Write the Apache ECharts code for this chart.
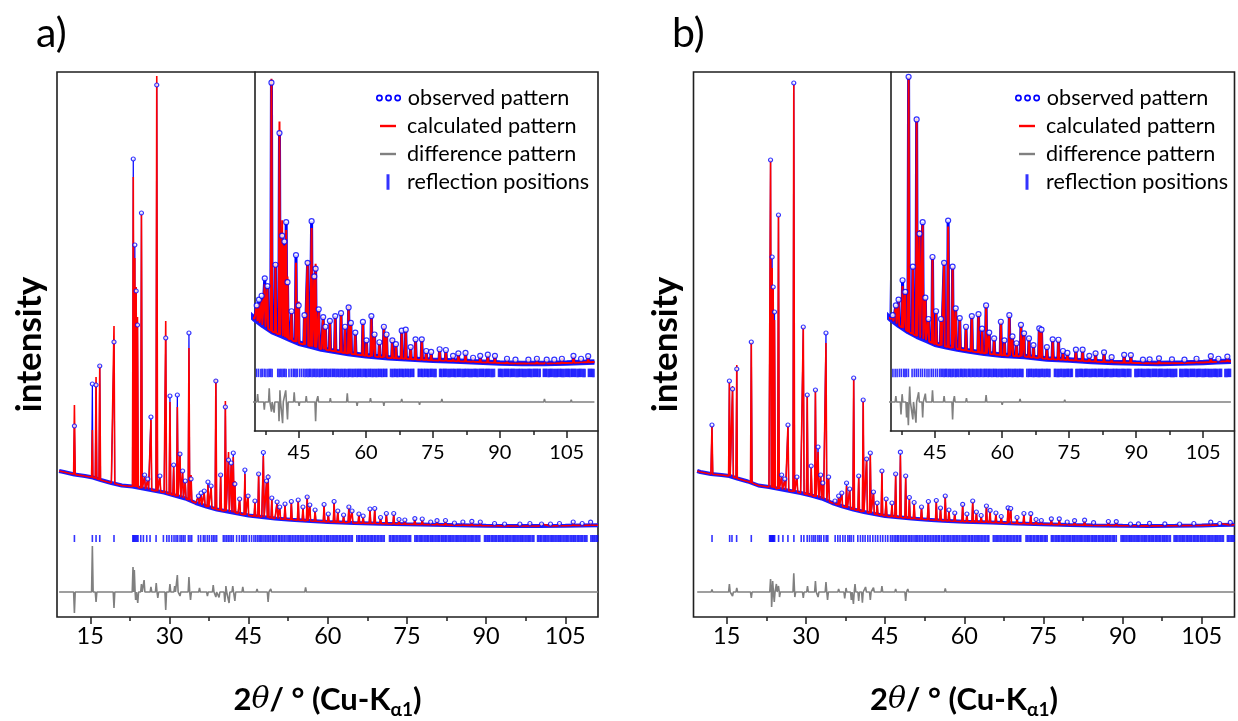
<!DOCTYPE html>
<html>
<head>
<meta charset="utf-8">
<script src="https://cdn.jsdelivr.net/npm/echarts@6/dist/echarts.min.js"></script>
<style>
html,body{margin:0;padding:0;background:#ffffff;}
#c{width:1238px;height:721px;}
</style>
</head>
<body>
<div id="c"></div>
<script>
// ---------------- data (2theta in degrees, intensity in arbitrary units) ----------------
const xTicks = [15, 30, 45, 60, 75, 90, 105];
const xMinorTicks = [22.5, 37.5, 52.5, 67.5, 82.5, 97.5];
const insetTicks = [45, 60, 75, 90, 105];
const insetMinorTicks = [37.5, 52.5, 67.5, 82.5, 97.5];

// panel a) background
const bgA_x = [9.1, 10, 12, 14, 15.5, 17, 19, 21, 23, 25, 27, 29, 31, 33, 35, 37, 39, 41, 43, 45, 47.5, 50, 53, 56, 60, 65, 70, 75, 80, 85, 90, 95, 100, 105, 108, 111.2];
const bgA_y = [146, 145, 142.5, 141, 139.5, 137, 134, 131.5, 130.5, 128.5, 126.5, 124.5, 121.5, 118.5, 114, 110.5, 107.5, 105.5, 103.5, 101.5, 100, 98.5, 97.3, 96.2, 95, 94, 93.3, 92.7, 92.3, 91.8, 91.3, 91, 91, 91.3, 91.6, 91.8];
// panel a) peaks: position, calculated top, observed top
const pkA_pos = [12.0, 15.4, 16.1, 16.8, 19.5, 23.15, 23.45, 23.7, 23.95, 24.7, 25.3, 25.9, 26.5, 27.6, 28.2, 29.3, 30.1, 30.8, 31.5, 32.0, 32.5, 33.0, 33.7, 34.1, 35.5, 36.0, 36.6, 37.3, 37.9, 38.8, 39.7, 40.6, 41.2, 41.7, 42.1, 42.4, 43.3, 44.3, 44.9, 46.2, 46.9, 47.8, 48.4, 48.7, 49.4, 50.4, 50.9, 51.9, 53.1, 54.4, 55.3, 56.1, 56.6, 57.6, 59.3, 60.1, 61.2, 61.9, 63.0, 64.0, 64.6, 65.9, 66.7, 68.0, 68.9, 70.0, 71.1, 72.5, 73.5, 74.6, 76.5, 77.9, 79.5, 80.7, 82.3, 84.0, 85.6, 87.3, 88.9, 91.6, 93.5, 96.4, 98.3, 100.5, 102.2, 103.9, 106.5, 108.2, 109.8];
const pkA_calc = [212, 187, 240, 252, 291, 440, 359, 330, 300, 402, 140, 137, 197, 541, 140, 296, 215, 150, 210, 165, 145, 135, 269, 142, 121, 122, 124, 132, 130, 238, 143, 216, 165, 152, 160, 136, 118, 143, 123, 116, 144, 161, 136, 142.5, 119, 115, 110, 112.7, 115, 117, 110, 121, 112, 106.5, 112, 103, 114.5, 106, 102, 110.5, 106.5, 103.5, 101, 107.5, 108.5, 99.5, 103.2, 103.4, 97.5, 96.8, 98.2, 97.6, 95, 96.3, 96.3, 94.3, 94.6, 95.5, 95, 93.2, 92.8, 93.2, 93.7, 93, 92.8, 93.7, 94.8, 93.5, 94.6];
const pkA_obs = [191, 233, 232, 251, 275, 458, 372, 326, 292, 404, 142, 138, 200, 532, 141, 279, 221, 152, 222, 163, 146, 136, 284, 138, 121, 124, 126, 135, 131, 236, 142, 210, 157, 154, 164, 133, 118, 147, 121, 116, 143, 164.5, 136, 140, 119, 115, 110, 113, 115.5, 117, 110, 120, 112, 107, 112.5, 103, 115.5, 106, 102, 110, 106, 103, 101, 108, 108.5, 99.5, 103.5, 103.5, 97.5, 97, 98.4, 98, 95, 96.3, 96.5, 94, 95, 95.6, 95, 93.5, 93, 93, 93.5, 93, 93, 93.5, 95, 93.5, 94.8];
// panel a) difference (obs - calc) spikes
const diffA_x = [12.0, 15.4, 16.1, 19.5, 23.1, 23.35, 23.6, 24.0, 24.7, 25.2, 26.5, 27.5, 27.8, 29.3, 30.1, 31.0, 31.5, 32.0, 33.7, 34.0, 35.7, 37.2, 38.3, 38.8, 39.4, 40.5, 40.7, 41.3, 42.0, 42.4, 43.9, 45.0, 46.6, 48.7, 49.2, 52.0, 55.8, 58.0, 61.0, 64.0, 68.0, 72.0, 77.0, 84.0, 91.0, 100.0, 106.0];
const diffA_d = [-21, 46, -10, -16, 25, 22, -8, -11, 8, 12, 5, 9, -6, -18, 8, 6, 17, -4, 15, -8, 4, -4, 7, -5, -5.5, -10, 6, -11, 6, -9, 5, -2, 3, -10, 3, 2, 4.5, -2, 2, -2, 1.5, -1.5, 1.5, -1, 1, 1.5, 1.2];
const reflA_low = [12.0, 15.4, 16.1, 16.8, 19.5, 23.06, 23.25, 23.45, 23.65, 23.85, 24.05, 24.57, 25.07, 25.7, 26.33, 27.47, 28.86, 29.49, 29.93, 30.43, 30.87, 31.25, 31.57, 32.01, 32.32, 32.64, 32.96, 33.59, 33.9, 34.22, 35.48, 35.92, 36.43, 36.74, 37.18, 37.56, 38.0, 38.32, 38.63, 38.95, 40.21, 40.52, 40.84, 41.15, 41.47, 41.78, 42.1, 42.73, 43.24, 43.68, 43.99, 44.31, 44.62, 45.13, 45.57, 46.01];

// panel b) background
const bgB_x = [9.4, 10, 12, 14, 15.5, 17, 19, 21, 23, 25, 27, 29, 31, 33, 35, 37, 39, 41, 43, 45, 47.5, 50, 53, 56, 60, 65, 70, 75, 80, 85, 90, 95, 100, 105, 108, 111.2];
const bgB_y = [146, 145, 143, 142, 141, 138.5, 135.5, 131.5, 130, 128, 126, 124, 121.5, 118.5, 114, 110.5, 107.5, 105, 103, 101, 99.7, 98.5, 97.3, 96.3, 95.3, 94.6, 93.4, 92.8, 92.1, 91.6, 91.3, 91.1, 91.3, 91.6, 92, 92.2];
const pkB_pos = [12.2, 15.5, 16.1, 16.9, 19.65, 23.3, 23.6, 23.8, 24.05, 24.8, 25.4, 26.0, 26.6, 27.7, 28.3, 29.5, 30.25, 31.0, 31.8, 32.3, 32.8, 33.2, 33.8, 34.3, 35.5, 36.2, 36.8, 37.7, 38.3, 39.05, 40.0, 40.85, 41.5, 42.2, 42.8, 43.5, 44.4, 45.2, 46.3, 47.0, 47.9, 48.9, 49.6, 50.5, 51.9, 53.2, 54.7, 55.5, 56.4, 57.1, 58.2, 59.7, 60.5, 61.6, 62.3, 63.2, 64.2, 64.9, 66.0, 67.0, 68.3, 68.8, 70.0, 71.3, 72.6, 73.6, 74.6, 76.5, 78.0, 79.5, 80.9, 82.8, 84.5, 87.3, 88.8, 91.5, 93.0, 95.1, 98.0, 100.8, 103.5, 106.7, 108.4, 110.4];
const pkB_calc = [191, 234, 231, 252, 275, 457, 349, 330, 297, 402, 140, 137, 192, 532, 140, 290, 222, 150, 227, 165, 142, 134, 274, 140, 115, 120.4, 123.8, 131, 128, 239, 141, 217.6, 160, 162.5, 125, 114, 146, 117.8, 114, 143.6, 161.7, 141, 119.5, 114.4, 110, 115.2, 116.4, 109, 121.2, 106.6, 104, 112.6, 103, 116, 104.9, 101.5, 110.9, 106.6, 104, 100.5, 109.2, 108.3, 99.5, 103.2, 103.2, 97.5, 96.3, 98, 98, 95, 96.3, 96.6, 94.3, 95.4, 95.4, 93, 93.2, 93.7, 93.2, 93, 93.5, 94.6, 93.5, 94.6];
const pkB_obs = [192, 236, 228, 248, 275, 457, 360, 330, 305, 402, 142, 138, 192, 534, 140, 290, 222, 151, 227, 170, 142, 134, 284, 140, 116, 121, 124, 134, 128, 239, 141, 217, 158, 164, 125, 114, 146, 118, 114, 143, 164.8, 141, 119.5, 114.5, 110, 115.5, 116.5, 109, 121, 107, 104, 112.6, 103, 116, 105, 101.5, 111, 106.6, 104, 100.5, 109.2, 108.5, 99.5, 103.5, 103.3, 97.5, 96.5, 98.2, 98.2, 95, 96.3, 96.8, 94.3, 95.5, 95.4, 93, 93.2, 93.7, 93.2, 93, 93.5, 94.8, 93.5, 94.6];
const diffB_x = [12.2, 15.5, 16.1, 16.9, 19.65, 23.3, 23.5, 23.7, 24.0, 24.4, 24.8, 25.0, 27.7, 27.9, 29.5, 30.3, 31.8, 32.3, 33.8, 34.1, 36.2, 37.35, 37.6, 38.6, 39.0, 39.3, 40.0, 40.7, 41.3, 42.2, 42.8, 44.4, 47.0, 48.9, 49.3, 52.0, 56.4, 60.0, 64.0, 68.0, 74.0, 80.0, 88.0, 96.0, 104.0];
const diffB_d = [2.5, 8, -4, 4, -6, 13, -15, 11, -10, 8, 6, -5, 18.6, -5, -6, 6, 11, -5, 10, -8, 3, -6.4, 4, -8, -12, 8, -9, -10.7, 5, -8, 4.3, 6, 3, -9, 3, 2, 3.6, -1.5, 1.5, -1, 1.2, -1, 1, 1, -1];
const reflB_low = [12.21, 15.55, 15.99, 16.87, 19.65, 23.12, 23.27, 23.43, 23.6, 23.75, 23.9, 24.07, 24.82, 25.64, 26.59, 27.72, 29.11, 29.61, 30.24, 30.68, 31.13, 31.5, 31.82, 32.26, 32.57, 32.89, 33.39, 33.84, 34.15, 35.54, 36.04, 36.48, 36.99, 37.43, 37.94, 38.25, 38.57, 39.01, 39.83, 40.33, 40.78, 41.22, 41.72, 42.16, 42.67, 43.17, 43.61, 44.12, 44.56, 45.07, 45.51, 46.02];

// high-angle reflection positions (dense band, same in both panels)
const reflHigh = [46.35, 46.7, 47.0, 47.3, 47.55, 47.9, 48.2, 48.5, 48.8, 49.1, 49.45, 49.7, 50.0, 50.3, 50.65, 50.9, 51.2, 51.5, 51.8, 52.1, 52.45, 52.7, 53.0, 53.3, 53.6, 53.9, 54.2, 54.5, 54.8, 55.1, 55.35, 55.7, 56.0, 56.25, 56.55, 56.85, 57.1, 57.4, 57.7, 58.0, 58.25, 58.55, 58.8, 59.1, 59.4, 59.7, 59.95, 60.2, 60.5, 60.8, 61.05, 61.35, 61.6, 61.9, 62.2, 62.45, 62.75, 63.0, 63.3, 63.55, 63.85, 64.1, 64.4, 64.65, 65.5, 65.8, 66.05, 66.35, 66.6, 66.9, 67.15, 67.45, 67.7, 68.0, 68.25, 68.5, 68.8, 69.05, 69.35, 69.6, 69.9, 70.15, 70.45, 70.7, 71.7, 71.95, 72.25, 72.5, 72.75, 73.05, 73.3, 73.6, 73.85, 74.1, 74.4, 74.65, 74.9, 75.2, 75.45, 75.7, 76.5, 76.75, 77.0, 77.3, 77.55, 77.8, 78.05, 78.35, 78.6, 78.85, 79.1, 79.4, 79.65, 79.9, 80.15, 80.45, 80.7, 80.95, 81.2, 81.5, 81.75, 82.0, 82.25, 82.5, 82.8, 83.05, 83.3, 83.55, 83.8, 84.1, 84.35, 84.6, 84.85, 85.1, 85.4, 85.65, 85.9, 86.15, 86.4, 86.7, 86.95, 87.2, 87.45, 87.7, 88.0, 88.25, 88.5, 88.8, 89.7, 89.95, 90.2, 90.45, 90.7, 91.0, 91.25, 91.5, 91.75, 92.0, 92.3, 92.55, 92.8, 93.05, 93.3, 93.6, 93.85, 94.1, 94.35, 94.6, 94.9, 95.15, 95.4, 95.65, 95.9, 96.2, 96.45, 96.7, 96.95, 97.2, 97.5, 97.75, 98.0, 98.25, 98.5, 98.8, 99.05, 99.75, 100.0, 100.25, 100.5, 100.8, 101.05, 101.3, 101.55, 101.8, 102.1, 102.35, 102.6, 102.85, 103.1, 103.4, 103.65, 103.9, 104.15, 104.4, 104.7, 104.95, 105.2, 105.45, 105.7, 106.0, 106.25, 106.5, 106.75, 107.0, 107.3, 107.55, 107.8, 108.05, 108.3, 108.6, 108.85, 109.1, 109.85, 110.1, 110.35, 110.6, 110.85, 111.1];

// ---------------- styles & layout ----------------
const FONT = 'Lato, "Open Sans", "DejaVu Sans", sans-serif';
const BLUE = '#0000ff', BAND = '#1a1aff', RED = '#ff0000', GRAY = '#808080', INK = '#1f1f1f';
const HW = 0.15; // half width of a peak spike (deg)
const MAIN_X = [8.7, 111.2], MAIN_Y = [0, 545];
const IN_X = [35.0, 112.0], IN_Y = [56.2, 241.5];
const MAIN_STYLE = { band: 4, line: 1.2, sym: 4, calc: 1.6, diff: 1.6, row: 78.5, tickH: 7, zero: 25 };
const IN_STYLE = { band: 5.5, line: 3, sym: 5, calc: 2, diff: 1.6, row: 86.2, tickH: 8.5, zero: 71.2 };

function bgAt(bx, by, x) {
  if (x <= bx[0]) return by[0];
  for (let i = 0; i < bx.length - 1; i++) {
    if (x <= bx[i + 1]) {
      const t = (x - bx[i]) / (bx[i + 1] - bx[i]);
      return by[i] + t * (by[i + 1] - by[i]);
    }
  }
  return by[by.length - 1];
}
function profile(bx, by, pos, tops) {
  const pts = bx.map((x, i) => [x, by[i], 0]);
  pos.forEach((p, i) => {
    pts.push([p - HW, bgAt(bx, by, p - HW), 1]);
    pts.push([p, tops[i], 2]);
    pts.push([p + HW, bgAt(bx, by, p + HW), 3]);
  });
  pts.sort((a, b) => (a[0] - b[0]) || (a[2] - b[2]));
  return pts.map(q => [q[0], q[1]]);
}
function diffProfile(dx, dd, zero, x0, x1) {
  const pts = [[x0, zero]];
  dx.forEach((x, i) => { pts.push([x - HW, zero], [x, zero + dd[i]], [x + HW, zero]); });
  pts.push([x1, zero]);
  return pts;
}

function panelSeries(xi, yi, d, st) {
  const common = { xAxisIndex: xi, yAxisIndex: yi, animation: false, silent: true };
  return [
    Object.assign({ name: 'observed pattern', type: 'line', data: d.bx.map((x, i) => [x, d.by[i]]),
      symbol: 'none', lineStyle: { color: BAND, width: st.band }, itemStyle: { color: BLUE }, z: 2 }, common),
    Object.assign({ name: 'observed pattern', type: 'line', data: profile(d.bx, d.by, d.pos, d.obs),
      symbol: 'none', lineStyle: { color: BLUE, width: st.line }, itemStyle: { color: BLUE }, z: 3 }, common),
    Object.assign({ name: 'calculated pattern', type: 'line', data: profile(d.bx, d.by, d.pos, d.calc),
      symbol: 'none', lineStyle: { color: RED, width: st.calc }, itemStyle: { color: RED }, z: 4 }, common),
    Object.assign({ name: 'observed pattern', type: 'scatter', data: d.pos.map((p, i) => [p, d.obs[i]]),
      symbol: 'circle', symbolSize: st.sym, itemStyle: { color: '#ffffff', borderColor: BLUE, borderWidth: 1.2 }, z: 5 }, common),
    Object.assign({ name: 'difference pattern', type: 'line', data: diffProfile(d.dx, d.dd, st.zero, d.bx[0], d.bx[d.bx.length - 1]),
      symbol: 'none', lineStyle: { color: GRAY, width: st.diff }, itemStyle: { color: GRAY }, z: 3 }, common),
    Object.assign({ name: 'reflection positions', type: 'scatter', data: d.refl.map(x => [x, st.row]),
      symbol: 'rect', symbolSize: [1.6, st.tickH], itemStyle: { color: BLUE }, z: 3 }, common)
  ];
}

const dataA = { bx: bgA_x, by: bgA_y, pos: pkA_pos, calc: pkA_calc, obs: pkA_obs, dx: diffA_x, dd: diffA_d, refl: reflA_low.concat(reflHigh) };
const dataB = { bx: bgB_x, by: bgB_y, pos: pkB_pos, calc: pkB_calc, obs: pkB_obs, dx: diffB_x, dd: diffB_d, refl: reflB_low.concat(reflHigh) };

const xTitle = '{n|2}{t|θ}{n|/ ° (Cu-K}{s|α1}{n|)}';
const xTitleStyle = {
  color: '#000',
  rich: {
    n: { fontFamily: FONT, fontWeight: 'bold', fontSize: 31, lineHeight: 38, color: '#000' },
    t: { fontFamily: '"DejaVu Serif", serif', fontStyle: 'italic', fontSize: 30, lineHeight: 38, color: '#000' },
    s: { fontFamily: FONT, fontWeight: 'bold', fontSize: 19, lineHeight: 19, verticalAlign: 'bottom', color: '#000' }
  }
};

function mainX(grid, withTitle) {
  return {
    gridIndex: grid, type: 'value', min: MAIN_X[0], max: MAIN_X[1], position: 'bottom',
    axisLine: { show: false, onZero: false }, splitLine: { show: false },
    axisTick: { show: true, customValues: xTicks, length: 7, lineStyle: { color: INK, width: 1.5 } },
    axisLabel: { show: true, customValues: xTicks, fontSize: 23.5, fontFamily: FONT, color: '#000', margin: 7 },
    name: withTitle ? xTitle : '', nameLocation: 'middle', nameGap: 64, nameTextStyle: xTitleStyle
  };
}
function mainXMinor(grid) {
  return {
    gridIndex: grid, type: 'value', min: MAIN_X[0], max: MAIN_X[1], position: 'bottom',
    axisLine: { show: false, onZero: false }, splitLine: { show: false },
    axisTick: { show: true, customValues: xMinorTicks, length: 4, lineStyle: { color: INK, width: 1.5 } },
    axisLabel: { show: false }
  };
}
function insetX(grid) {
  return {
    gridIndex: grid, type: 'value', min: IN_X[0], max: IN_X[1], position: 'bottom',
    axisLine: { show: true, onZero: false, lineStyle: { color: INK, width: 1.6 } }, splitLine: { show: false },
    axisTick: { show: true, customValues: insetTicks, length: 7, lineStyle: { color: INK, width: 1.5 } },
    axisLabel: { show: true, customValues: insetTicks, fontSize: 20, fontFamily: FONT, color: '#000', margin: 12 }
  };
}
function insetXMinor(grid) {
  return {
    gridIndex: grid, type: 'value', min: IN_X[0], max: IN_X[1], position: 'bottom',
    axisLine: { show: false, onZero: false }, splitLine: { show: false },
    axisTick: { show: true, customValues: insetMinorTicks, length: 4, lineStyle: { color: INK, width: 1.5 } },
    axisLabel: { show: false }
  };
}
function mainY(grid) {
  return {
    gridIndex: grid, type: 'value', min: MAIN_Y[0], max: MAIN_Y[1],
    axisLine: { show: false }, axisTick: { show: false }, axisLabel: { show: false }, splitLine: { show: false },
    name: 'intensity', nameLocation: 'middle', nameRotate: 90, nameGap: 10,
    nameTextStyle: { fontFamily: FONT, fontWeight: 'bold', fontSize: 35, color: '#000' }
  };
}
function insetY(grid) {
  return {
    gridIndex: grid, type: 'value', min: IN_Y[0], max: IN_Y[1],
    axisLine: { show: true, onZero: false, lineStyle: { color: INK, width: 1.6 } },
    axisTick: { show: false }, axisLabel: { show: false }, splitLine: { show: false }
  };
}

const OBS_ICON = 'path://M0.4,3a2.6,2.6 0 1,0 5.2,0a2.6,2.6 0 1,0 -5.2,0zM9.4,3a2.6,2.6 0 1,0 5.2,0a2.6,2.6 0 1,0 -5.2,0zM18.4,3a2.6,2.6 0 1,0 5.2,0a2.6,2.6 0 1,0 -5.2,0z';
function legends(dx) {
  const ts = (pad) => ({ fontFamily: FONT, fontSize: 21.6, color: '#000', lineHeight: 24, padding: [0, 0, 0, pad] });
  return [
    { left: 376 + dx, top: 86, padding: 0, itemWidth: 23.5, itemHeight: 5.5, selectedMode: false, textStyle: ts(2.5),
      data: [{ name: 'observed pattern', icon: OBS_ICON, itemStyle: { color: 'rgba(0,0,0,0)', borderColor: BLUE, borderWidth: 1.6 } }] },
    { left: 380 + dx, top: 114, padding: 0, itemWidth: 16, itemHeight: 2.4, selectedMode: false, textStyle: ts(6),
      data: [{ name: 'calculated pattern', icon: 'rect', itemStyle: { color: RED, borderWidth: 0 } }] },
    { left: 380 + dx, top: 142, padding: 0, itemWidth: 16, itemHeight: 2.4, selectedMode: false, textStyle: ts(6),
      data: [{ name: 'difference pattern', icon: 'rect', itemStyle: { color: GRAY, borderWidth: 0 } }] },
    { left: 386.5 + dx, top: 170, padding: 0, itemWidth: 3, itemHeight: 15.5, selectedMode: false, textStyle: ts(12.5),
      data: [{ name: 'reflection positions', icon: 'rect', itemStyle: { color: BLUE, borderWidth: 0 } }] }
  ];
}

const gridBase = { outerBoundsMode: 'none', containLabel: false };
const option = {
  animation: false,
  backgroundColor: '#ffffff',
  title: [
    { text: 'a)', left: 36, top: 13, padding: 0, textStyle: { fontFamily: FONT, fontSize: 41, fontWeight: 'normal', color: '#000' } },
    { text: 'b)', left: 672, top: 13, padding: 0, textStyle: { fontFamily: FONT, fontSize: 41, fontWeight: 'normal', color: '#000' } }
  ],
  legend: legends(0).concat(legends(639)),
  grid: [
    Object.assign({ left: 57, top: 72, width: 541, height: 545, show: true, borderColor: INK, borderWidth: 1.6, backgroundColor: 'rgba(0,0,0,0)' }, gridBase),
    Object.assign({ left: 254.5, top: 72, width: 343.5, height: 359, show: false }, gridBase),
    Object.assign({ left: 693.5, top: 72, width: 541, height: 545, show: true, borderColor: INK, borderWidth: 1.6, backgroundColor: 'rgba(0,0,0,0)' }, gridBase),
    Object.assign({ left: 890.5, top: 72, width: 344, height: 359, show: false }, gridBase)
  ],
  xAxis: [mainX(0, true), mainXMinor(0), insetX(1), insetXMinor(1), mainX(2, true), mainXMinor(2), insetX(3), insetXMinor(3)],
  yAxis: [mainY(0), insetY(1), mainY(2), insetY(3)],
  series: [].concat(
    panelSeries(0, 0, dataA, MAIN_STYLE),
    panelSeries(2, 1, dataA, IN_STYLE),
    panelSeries(4, 2, dataB, MAIN_STYLE),
    panelSeries(6, 3, dataB, IN_STYLE)
  )
};

const chart = echarts.init(document.getElementById('c'), null, { renderer: 'canvas' });
chart.setOption(option);
</script>
</body>
</html>
